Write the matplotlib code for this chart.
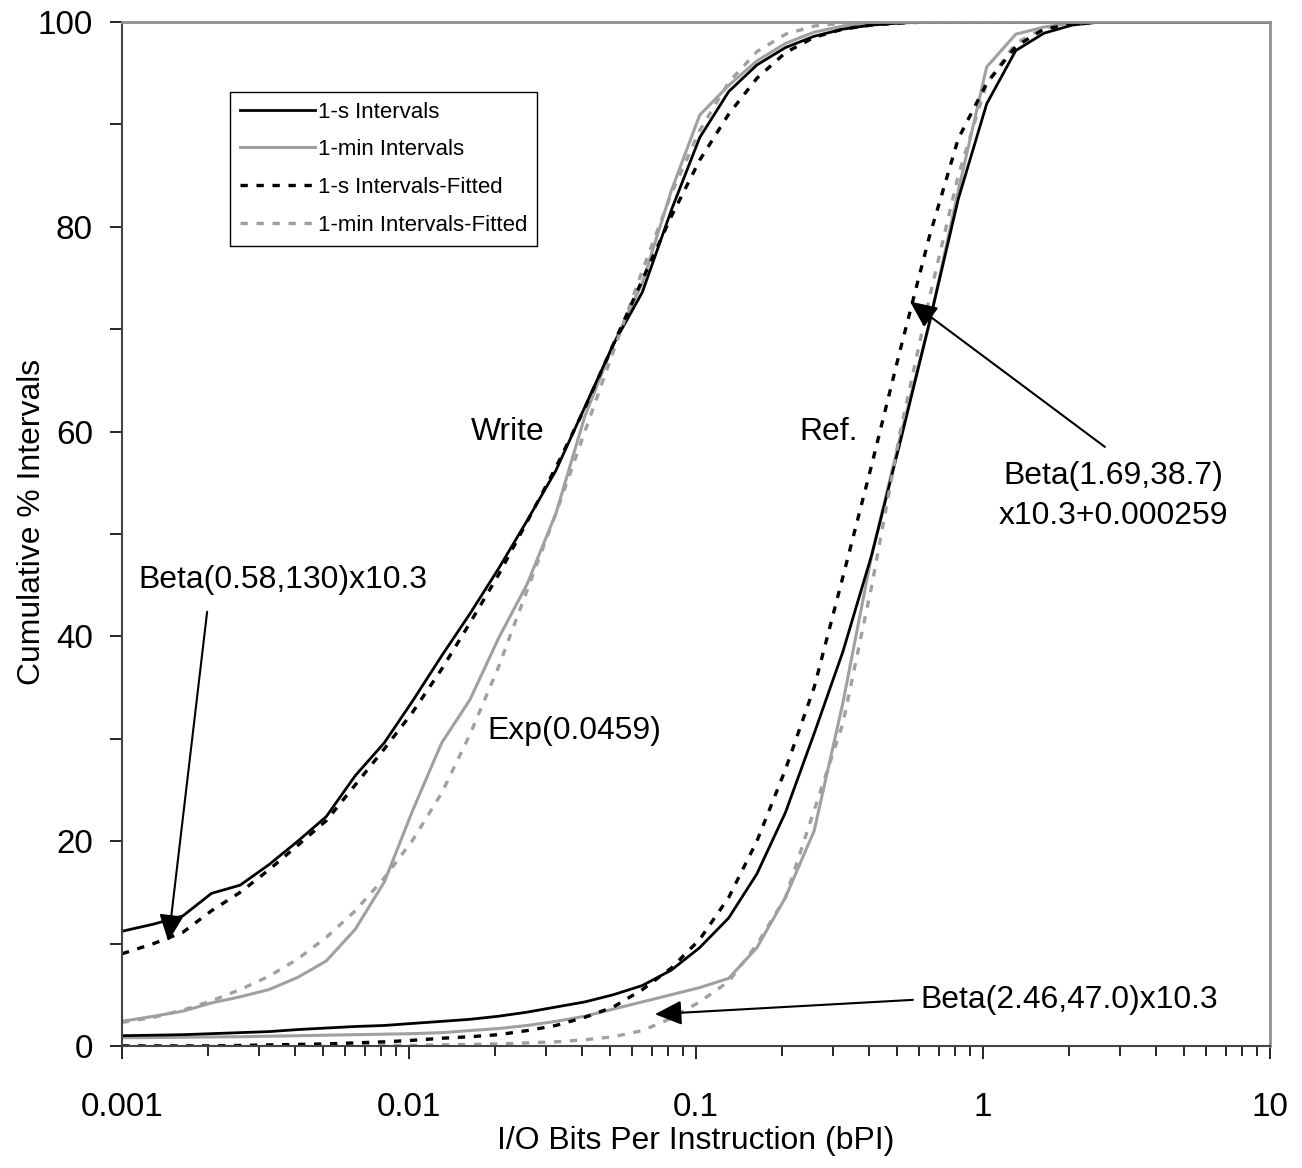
import matplotlib
matplotlib.use("Agg")
import matplotlib.pyplot as plt
from matplotlib import font_manager
from matplotlib.ticker import FixedLocator, LogLocator, NullFormatter, FixedFormatter

# the original uses a narrow Arial-like face; fall back to Liberation Sans, a bit smaller
installed = {f.name for f in font_manager.fontManager.ttflist}
if "Liberation Sans Narrow" in installed:
    plt.rcParams['font.family'] = ['Liberation Sans Narrow', 'DejaVu Sans']
    fs = 1.0
else:
    plt.rcParams['font.family'] = ['Liberation Sans', 'DejaVu Sans']
    fs = 0.85

# bPI sample points shared by all curves
bpi = [0.001, 0.00129, 0.00163, 0.00205, 0.00258, 0.00325, 0.0041, 0.00515,
       0.0065, 0.0082, 0.0103, 0.013, 0.0163, 0.0205, 0.0258, 0.0325, 0.041,
       0.0515, 0.065, 0.082, 0.103, 0.13, 0.163, 0.205, 0.258, 0.325, 0.41,
       0.515, 0.65, 0.82, 1.03, 1.3, 1.63, 2.05, 2.58, 3.25, 4.1, 5.15, 6.5,
       8.2, 10.0]

# Write traffic
write_1s = [11.2, 11.9, 12.7, 14.9, 15.7, 17.7, 20.0, 22.4, 26.4, 29.6, 33.7,
            38.1, 42.2, 46.6, 51.3, 56.2, 62.4, 68.5, 73.6, 81.6, 88.7, 93.2,
            95.8, 97.5, 98.6, 99.3, 99.7, 99.9, 100, 100, 100, 100, 100, 100,
            100, 100, 100, 100, 100, 100, 100]
write_1min = [2.4, 2.9, 3.4, 4.2, 4.8, 5.5, 6.7, 8.3, 11.4, 16.0, 23.0, 29.6,
              33.8, 39.8, 45.1, 52.0, 61.5, 68.5, 74.5, 83.5, 90.9, 93.8, 96.2,
              97.9, 99.0, 99.6, 99.9, 100, 100, 100, 100, 100, 100, 100, 100,
              100, 100, 100, 100, 100, 100]
write_1s_fit = [9.0, 10.0, 11.1, 13.2, 15.0, 17.2, 19.6, 22.0, 25.5, 29.0,
                32.6, 36.8, 41.3, 46.0, 51.2, 56.5, 62.3, 68.5, 74.8, 81.0,
                86.5, 91.0, 94.5, 97.0, 98.5, 99.3, 99.7, 99.9, 100, 100, 100,
                100, 100, 100, 100, 100, 100, 100, 100, 100, 100]
write_1min_fit = [2.3, 2.8, 3.5, 4.4, 5.5, 6.8, 8.5, 10.6, 13.2, 16.4, 20.1,
                  24.7, 30.4, 37.0, 44.5, 52.0, 60.0, 67.8, 75.7, 83.2, 89.4,
                  94.1, 97.1, 98.8, 99.6, 99.9, 100, 100, 100, 100, 100, 100,
                  100, 100, 100, 100, 100, 100, 100, 100, 100]

# Ref traffic
ref_1s = [1.0, 1.05, 1.1, 1.2, 1.3, 1.4, 1.6, 1.75, 1.9, 2.0, 2.2, 2.4, 2.6,
          2.9, 3.3, 3.8, 4.3, 5.0, 5.9, 7.4, 9.6, 12.5, 16.8, 22.8, 30.5,
          38.5, 48.0, 59.0, 70.6, 82.7, 92.0, 97.2, 98.9, 99.7, 100, 100, 100,
          100, 100, 100, 100]
ref_1min = [0.8, 0.82, 0.85, 0.88, 0.9, 0.95, 1.0, 1.05, 1.1, 1.15, 1.2, 1.3,
            1.5, 1.7, 2.0, 2.4, 2.9, 3.6, 4.3, 5.0, 5.7, 6.6, 9.6, 14.5, 21.0,
            33.5, 48.0, 59.5, 70.5, 83.5, 95.6, 98.8, 99.5, 99.9, 100, 100,
            100, 100, 100, 100, 100]
ref_1s_fit = [0.0, 0.0, 0.0, 0.0, 0.05, 0.1, 0.15, 0.2, 0.3, 0.4, 0.55, 0.75,
              0.9, 1.1, 1.5, 2.0, 2.8, 3.8, 5.5, 7.6, 10.4, 14.5, 20.0, 27.0,
              35.0, 45.8, 56.8, 68.0, 79.0, 88.6, 94.0, 97.6, 99.3, 99.8, 100,
              100, 100, 100, 100, 100, 100]
ref_1min_fit = [0.0, 0.0, 0.0, 0.0, 0.0, 0.0, 0.0, 0.0, 0.0, 0.05, 0.05, 0.1,
                0.15, 0.2, 0.3, 0.4, 0.6, 0.9, 1.5, 2.7, 4.3, 6.3, 9.9, 14.5,
                23.0, 31.5, 45.0, 60.0, 73.0, 85.0, 94.0, 97.9, 99.4, 99.9,
                100, 100, 100, 100, 100, 100, 100]

labels = ["1-s Intervals", "1-min Intervals",
          "1-s Intervals-Fitted", "1-min Intervals-Fitted"]

GRAY = "#a0a0a0"
styles = [dict(color="black", lw=2.0, ls="-"),
          dict(color=GRAY, lw=2.2, ls="-"),
          dict(color="black", lw=2.4, ls=(0, (2.2, 2.6))),
          dict(color=GRAY, lw=2.4, ls=(0, (2.2, 2.6)))]

fig = plt.figure(figsize=(13.02, 11.68), dpi=100)
ax = fig.add_axes([0.0937, 0.1045, 0.8817, 0.8767])

write_sets = [write_1s, write_1min, write_1s_fit, write_1min_fit]
ref_sets = [ref_1s, ref_1min, ref_1s_fit, ref_1min_fit]

for i in [1, 0, 3, 2]:
    ax.plot(bpi, write_sets[i], label=labels[i], **styles[i])
    ax.plot(bpi, ref_sets[i], **styles[i])

ax.set_xscale("log")
ax.set_xlim(0.001, 10)
ax.set_ylim(0, 100)

ax.xaxis.set_major_locator(FixedLocator([0.001, 0.01, 0.1, 1, 10]))
ax.xaxis.set_major_formatter(FixedFormatter(["0.001", "0.01", "0.1", "1", "10"]))
ax.xaxis.set_minor_locator(LogLocator(base=10, subs=range(2, 10)))
ax.xaxis.set_minor_formatter(NullFormatter())
ax.yaxis.set_major_locator(FixedLocator([0, 20, 40, 60, 80, 100]))
ax.yaxis.set_minor_locator(FixedLocator([10, 30, 50, 70, 90]))

big = 27 * fs
ax.tick_params(axis="both", which="major", direction="out", labelsize=big + 1,
               width=1.2, color="black")
ax.tick_params(axis="y", which="both", length=9, width=1.2, pad=12)
ax.tick_params(axis="x", which="major", length=9, pad=24)
ax.tick_params(axis="x", which="minor", length=7, width=1.2)

for side in ["left", "bottom"]:
    ax.spines[side].set_color("#444444")
    ax.spines[side].set_linewidth(1.5)
for side in ["top", "right"]:
    ax.spines[side].set_color("#909090")
    ax.spines[side].set_linewidth(2)

ax.set_xlabel("I/O Bits Per Instruction (bPI)", fontsize=big, labelpad=2)
ax.set_ylabel("Cumulative % Intervals", fontsize=big, va="center")
ax.yaxis.set_label_coords(-0.078, 0.512)

handles, labs = ax.get_legend_handles_labels()
order = [labs.index(l) for l in labels]
leg = ax.legend([handles[k] for k in order], labels, loc="upper left",
                bbox_to_anchor=(0.094, 0.932), borderaxespad=0,
                fontsize=16, handlelength=3.4, handletextpad=0.1,
                labelspacing=0.75, borderpad=0.45, fancybox=False, framealpha=1)
leg.get_frame().set_edgecolor("black")
leg.get_frame().set_linewidth(1.0)

arrow = dict(arrowstyle="-|>,head_length=0.55,head_width=0.25", color="black",
             lw=1.5, mutation_scale=30, shrinkA=0, shrinkB=0)

ax.annotate("", xy=(0.00145, 10.2), xytext=(0.00198, 42.4), arrowprops=arrow)
ax.text(0.00114, 45.5, "Beta(0.58,130)x10.3", fontsize=big, va="center", ha="left")

ax.text(0.0187, 30.8, "Exp(0.0459)", fontsize=big, va="center", ha="left")
ax.text(0.0221, 60.0, "Write", fontsize=big, va="center", ha="center")
ax.text(0.290, 60.0, "Ref.", fontsize=big, va="center", ha="center")

ax.annotate("", xy=(0.557, 72.7), xytext=(2.66, 58.5), arrowprops=arrow)
ax.text(2.84, 53.7, "Beta(1.69,38.7)\nx10.3+0.000259", fontsize=big,
        va="center", ha="center", linespacing=1.45)

ax.annotate("", xy=(0.0719, 3.1), xytext=(0.57, 4.5), arrowprops=arrow)
ax.text(0.603, 4.5, "Beta(2.46,47.0)x10.3", fontsize=big, va="center", ha="left")

fig.savefig("out.png", dpi=100)
